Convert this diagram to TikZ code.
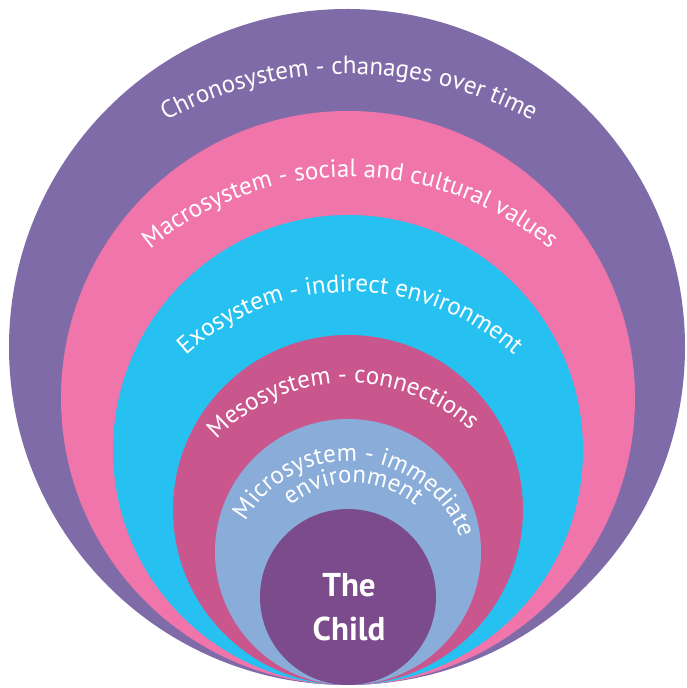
\documentclass[tikz,border=0pt]{standalone}
\usepackage{fontspec}
\setmainfont{PT Sans}
\usepackage{tikz}
\usetikzlibrary{decorations.text}
\definecolor{chronopurple}{RGB}{128,107,169}
\definecolor{macropink}{RGB}{240,117,170}
\definecolor{exocyan}{RGB}{38,193,240}
\definecolor{mesopink}{RGB}{202,86,142}
\definecolor{microblue}{RGB}{138,172,216}
\definecolor{childpurple}{RGB}{123,75,140}
\newcommand{\ringfont}{\color{white}\fontsize{25}{28}\selectfont}
\tikzset{
  arclabel/.style={decorate, decoration={text along path, text align=center, text={#1}}},
  childtext/.style={anchor=base, text=white, font=\bfseries\fontsize{33}{38}\selectfont}
}

\begin{document}
\begin{tikzpicture}[x=1pt, y=1pt]
  \useasboundingbox (0,0) rectangle (686,688);

  % ── Nested systems (all circles touch at the bottom) ──────────────────────
  \coordinate (chronoc) at (347,341);
  \coordinate (macroc) at (348,290);
  \coordinate (exoc) at (348,238);
  \coordinate (mesoc) at (348,178);
  \coordinate (microc) at (348,136);
  \coordinate (childc) at (348,91);
  \fill[chronopurple] (chronoc) circle[radius=338pt];
  \fill[macropink] (macroc) circle[radius=287pt];
  \fill[exocyan] (exoc) circle[radius=235pt];
  \fill[mesopink] (mesoc) circle[radius=175pt];
  \fill[microblue] (microc) circle[radius=133pt];
  \fill[childpurple] (childc) circle[radius=88pt];

  % ── Ring labels ───────────────────────────────────────────────────────────
  \path[arclabel={|\ringfont|Chronosystem - chanages over time}]
    ([shift={(349,232)}]145:382pt) arc[start angle=145, end angle=35, radius=382pt];
  \path[arclabel={|\ringfont|Macrosystem - social and cultural values}]
    ([shift={(350,198)}]140:313pt) arc[start angle=140, end angle=40, radius=313pt];
  \path[arclabel={|\ringfont|Exosystem - indirect environment}]
    ([shift={(350,152)}]145:244pt) arc[start angle=145, end angle=35, radius=244pt];
  \path[arclabel={|\ringfont|Mesosystem - connections}]
    ([shift={(348,124)}]150:181pt) arc[start angle=150, end angle=34, radius=181pt];
  \path[arclabel={|\ringfont|Microsystem - immediate}]
    ([shift={(349,108)}]175:119pt) arc[start angle=175, end angle=-4, radius=119pt];
  \path[arclabel={|\ringfont|environment}]
    ([shift={(353,108)}]150:97pt) arc[start angle=150, end angle=30, radius=97pt];

  % ── Centre ────────────────────────────────────────────────────────────────
  \node[childtext] (the) at (349,91) {The};
  \node[childtext] (childlbl) at (349,47) {Child};
\end{tikzpicture}
\end{document}
